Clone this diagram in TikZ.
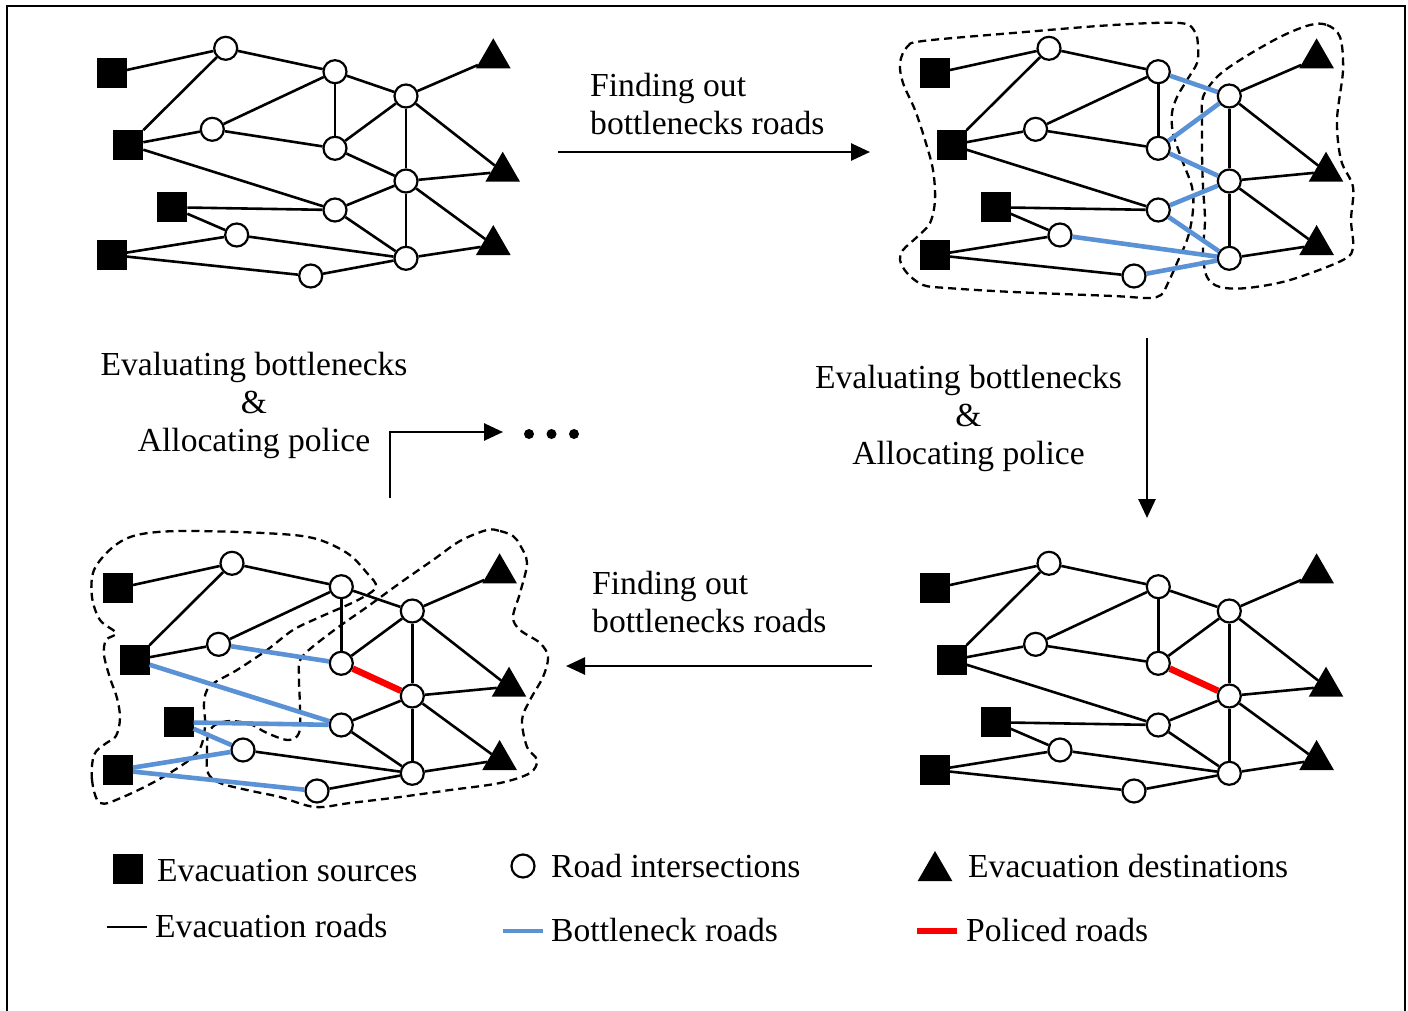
\documentclass[tikz,border=0pt]{standalone}
\usepackage{fontspec}
\setmainfont{Liberation Serif}
\usetikzlibrary{shapes.geometric,arrows.meta}
\definecolor{bneckblue}{RGB}{91,146,214}
\definecolor{policered}{RGB}{250,0,0}
\tikzset{
  src/.style={rectangle,fill=black,minimum size=30pt,inner sep=0pt,outer sep=0pt},
  inter/.style={circle,draw=black,fill=white,line width=2.2pt,minimum size=23pt,inner sep=0pt},
  dest/.style={regular polygon,regular polygon sides=3,fill=black,minimum size=40pt,inner sep=0pt,outer sep=0pt},
  road/.style={line width=2.6pt,black},
  bneck/.style={line width=4.6pt,bneckblue},
  police/.style={line width=6.5pt,policered},
  blob/.style={line width=2.3pt,dash pattern=on 8pt off 5pt},
  flow/.style={line width=2.7pt,-{Triangle[length=19pt,width=17pt]}},
  lbl/.style={inner sep=0pt,font=\fontsize{33.6pt}{38pt}\selectfont},
  dotnode/.style={circle,fill=black,minimum size=10pt,inner sep=0pt},
  eS1A/.style={},eS2A/.style={},eAB/.style={},eS2C/.style={},eCB/.style={},eCD/.style={},
  eBD/.style={},eBE/.style={},eDE/.style={},eDF/.style={},eET1/.style={},eEF/.style={},
  eET2/.style={},eS2G/.style={},eS3G/.style={},eS3H/.style={},eS4H/.style={},eS4J/.style={},
  eHI/.style={},eGF/.style={},eGI/.style={},eFI/.style={},eFT2/.style={},eFT3/.style={},
  eIT3/.style={},eJI/.style={}
}
\def\edgelist{S1/A,S2/A,A/B,S2/C,C/B,C/D,B/D,B/E,D/E,D/F,E/T1,E/F,E/T2,S2/G,S3/G,S3/H,S4/H,S4/J,H/I,G/F,G/I,F/I,F/T2,F/T3,I/T3,J/I}
\newcommand\evacnet[3]{%
  \begin{scope}[shift={(#2,#3)}]
    \node[src] (#1S1) at (111.7,73.3) {};
    \node[src] (#1S2) at (128.3,145) {};
    \node[src] (#1S3) at (172.3,207.3) {};
    \node[src] (#1S4) at (111.7,255) {};
    \node[inter] (#1A) at (225.7,48.3) {};
    \node[inter] (#1B) at (335,71.7) {};
    \node[inter] (#1C) at (212.3,129.3) {};
    \node[inter] (#1D) at (335,148.3) {};
    \node[inter] (#1E) at (406,96) {};
    \node[inter] (#1F) at (406,181) {};
    \node[inter] (#1G) at (335,210) {};
    \node[inter] (#1H) at (236.7,235) {};
    \node[inter] (#1I) at (406,258.3) {};
    \node[inter] (#1J) at (310.7,276) {};
    \node[dest] (#1T1) at (493.3,58.3) {};
    \node[dest] (#1T2) at (502.7,171.7) {};
    \node[dest] (#1T3) at (493.3,245) {};
    \foreach \a/\b in \edgelist {\edef\tmp{\noexpand\draw[road,e\a\b] (#1\a) -- (#1\b);}\tmp}
  \end{scope}}
\begin{document}
\begin{tikzpicture}[x=1pt,y=-1pt]
\useasboundingbox (0,0) rectangle (1408,1010);
\fill[white] (0,0) rectangle (1408,1010);
% frame
\draw[line width=2.5pt] (7,1012) -- (7,6) -- (1405,6) -- (1405,1012);

% dashed regions, top-right network
\draw[blob] plot[smooth cycle,tension=0.55] coordinates {
 (900,63) (907,47) (923,41) (1013,33) (1113,25) (1180,23) (1195,32) (1198,47) (1197,63)
 (1187,80) (1177,97) (1172,113) (1173,133) (1182,160) (1192,187) (1193,210) (1188,237)
 (1177,263) (1168,283) (1161,295) (1148,298) (1113,296) (1013,292) (947,288) (923,285)
 (907,273) (900,260) (903,250) (917,237) (930,223) (935,200) (933,170) (925,140) (915,110) (903,83)};
\draw[blob] plot[smooth cycle,tension=0.55] coordinates {
 (1310,25) (1327,25) (1340,37) (1343,70) (1337,120) (1341,160) (1353,187) (1351,220)
 (1353,247) (1343,260) (1290,280) (1247,288) (1220,287) (1207,277) (1203,253) (1205,220)
 (1203,187) (1202,153) (1202,120) (1203,97) (1217,77) (1240,60) (1280,37)};

% dashed regions, bottom-left network
\draw[blob] plot[smooth cycle,tension=0.55] coordinates {
 (100,803) (92,780) (94,755) (105,744) (116,736) (120,718) (117,698) (110,678) (104,655)
 (106,640) (116,633) (100,620) (92,597) (94,570) (113,547) (137,535) (180,531) (263,533)
 (313,538) (347,553) (367,573) (376,587) (358,600) (320,617) (293,630) (267,650) (237,670)
 (210,686) (204,703) (205,727) (197,753) (163,777) (123,797)};
\draw[blob] plot[smooth cycle,tension=0.55] coordinates {
 (487,530) (500,531) (513,536) (520,545) (527,563) (520,593) (513,617) (520,630) (540,643)
 (548,657) (543,677) (530,700) (522,720) (527,747) (537,760) (530,773) (500,783) (450,790)
 (400,797) (350,803) (315,807) (280,797) (247,790) (220,783) (208,773) (207,753) (208,735)
 (215,725) (230,721) (250,724) (267,733) (288,740) (299,733) (300,707) (299,677) (302,657)
 (333,631) (367,607) (400,583) (433,560) (460,541)};

% networks
\evacnet{tl}{0}{0}
\begin{scope}[eBE/.style=bneck,eDE/.style=bneck,eDF/.style=bneck,eGF/.style=bneck,eGI/.style=bneck,eHI/.style=bneck,eJI/.style=bneck]
\evacnet{tr}{823.3}{0}
\end{scope}
\begin{scope}[eDF/.style=police]
\evacnet{br}{823.3}{515}
\end{scope}
\begin{scope}[eDF/.style=police,eCD/.style=bneck,eS2G/.style=bneck,eS3G/.style=bneck,eS3H/.style=bneck,eS4H/.style=bneck,eS4J/.style=bneck]
\evacnet{bl}{6.3}{515}
\end{scope}

% process labels and arrows
\node[lbl,anchor=west,align=left] (find1) at (590,104) {Finding out\\bottlenecks roads};
\coordinate (a1s) at (558,152); \coordinate (a1e) at (870,152);
\draw[flow] (a1s) -- (a1e);

\node[lbl,align=center] (eval1) at (968.5,418) {Evaluating bottlenecks\\\&\\Allocating police};
\coordinate (a2s) at (1147,338); \coordinate (a2e) at (1147,518);
\draw[flow] (a2s) -- (a2e);

\node[lbl,anchor=west,align=left] (find2) at (592,602) {Finding out\\bottlenecks roads};
\coordinate (a3s) at (872,666); \coordinate (a3e) at (566,666);
\draw[flow] (a3s) -- (a3e);

\node[lbl,align=center] (eval2) at (254,405) {Evaluating bottlenecks\\\&\\Allocating police};
\coordinate (a4s) at (390,498); \coordinate (a4e) at (503,432);
\draw[flow] (a4s) |- (a4e);
\node[dotnode] (dot1) at (529,434) {};
\node[dotnode] (dot2) at (551.5,434) {};
\node[dotnode] (dot3) at (574,434) {};

% legend
\node[src] (lgsrc) at (128,869) {};
\node[lbl,anchor=base west] (lgsrct) at (157,881) {Evacuation sources};
\node[inter] (lgint) at (523,866) {};
\node[lbl,anchor=base west] (lgintt) at (551,877) {Road intersections};
\node[dest] (lgdst) at (935,871) {};
\node[lbl,anchor=base west] (lgdstt) at (968,877) {Evacuation destinations};
\coordinate (lr1) at (107,927); \coordinate (lr2) at (147,927);
\draw[road] (lr1) -- (lr2);
\node[lbl,anchor=base west] (lgroadt) at (155,937) {Evacuation roads};
\coordinate (lb1) at (503,931); \coordinate (lb2) at (543,931);
\draw[bneck] (lb1) -- (lb2);
\node[lbl,anchor=base west] (lgbnt) at (551,941) {Bottleneck roads};
\coordinate (lp1) at (917,931); \coordinate (lp2) at (957,931);
\draw[police] (lp1) -- (lp2);
\node[lbl,anchor=base west] (lgpot) at (966,941) {Policed roads};
\end{tikzpicture}
\end{document}
